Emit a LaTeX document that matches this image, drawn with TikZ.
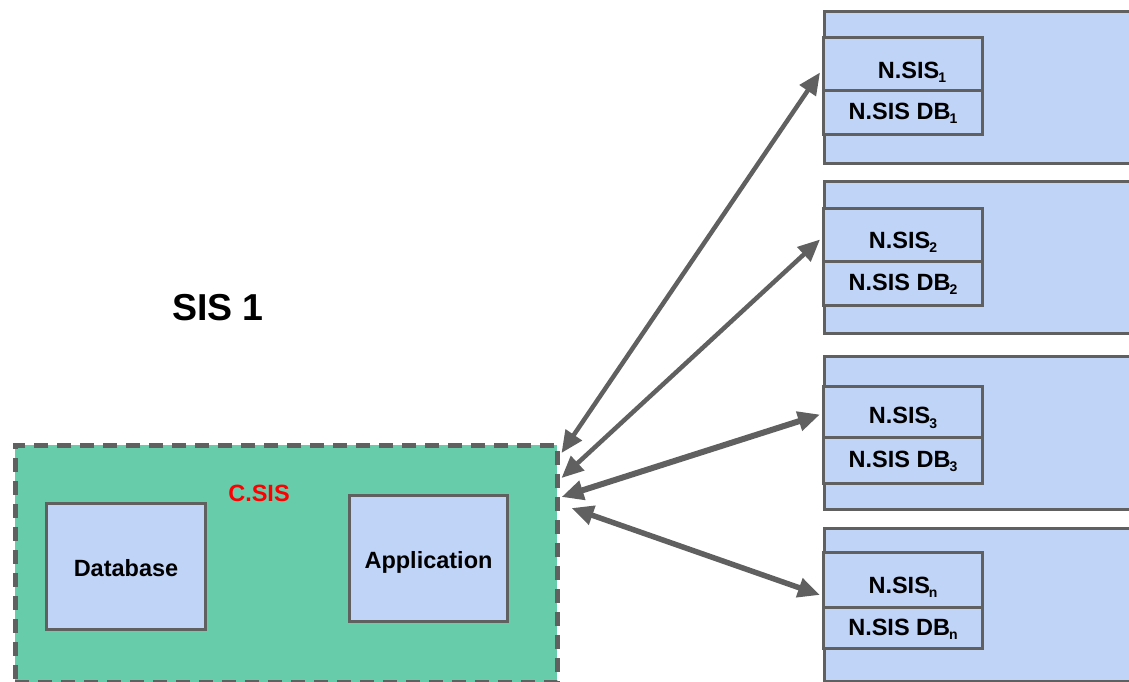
\documentclass[tikz,border=0pt]{standalone}
\usepackage{fontspec}
\setmainfont{Liberation Sans}
\usetikzlibrary{arrows.meta}
\definecolor{paleblue}{RGB}{192,212,248}
\definecolor{seagreen}{RGB}{102,204,170}
\definecolor{edgegray}{RGB}{96,96,96}
\newcommand\idx[1]{\kern-1pt\raisebox{-0.35ex}{\fontsize{14pt}{14pt}\selectfont #1}}
\tikzset{
  box/.style={draw=edgegray, line width=3pt, fill=paleblue, rectangle,
              inner sep=0pt, anchor=north west},
  site/.style={box, minimum width=420pt},
  cell/.style={box, minimum width=159pt},
  lbl/.style={font=\fontsize{23.5pt}{25pt}\selectfont\bfseries, inner sep=0pt},
  link/.style={draw=edgegray, line width=#1,
               arrows={Triangle[length=22pt,width=19pt]-Triangle[length=22pt,width=19pt]},
               fill=edgegray},
  link/.default=4.5pt
}
\begin{document}
\begin{tikzpicture}[x=1pt,y=-1pt]
\useasboundingbox (0,0) rectangle (1129,682);
\clip (0,0) rectangle (1129,682);

% central site
\node[box, fill=seagreen, line width=4.5pt, dash pattern=on 14pt off 9pt,
      minimum width=542pt, minimum height=237pt] (csis) at (13,443) {};
\node[box, minimum width=159pt, minimum height=126pt] (db) at (45,502) {};
\node[lbl] at ([yshift=-2pt]db.center) {Database};
\node[box, minimum width=158pt, minimum height=126pt] (app) at (348,494) {};
\node[lbl] at ([yshift=-4pt]app.center) {Application};
\node[lbl, text=red] (clabel) at (259,493) {C.SIS};
\node[font=\fontsize{37.5pt}{40pt}\selectfont\bfseries, inner sep=0pt] (title) at (218,308) {SIS 1};

% remote sites
\node[site, minimum height=152pt] (site1) at (823,10) {};
\node[cell, minimum height=53pt] (s1) at (822,36) {};
\node[cell, minimum height=44pt] (d1) at (822,89) {};
\node[lbl] at ([xshift=9pt,yshift=-8pt]s1.center) {N.SIS\idx{1}};
\node[lbl] at ([yshift=-1pt]d1.center) {N.SIS DB\idx{1}};

\node[site, minimum height=152pt] (site2) at (823,180) {};
\node[cell, minimum height=53pt] (s2) at (822,207) {};
\node[cell, minimum height=44pt] (d2) at (822,260) {};
\node[lbl] at ([yshift=-7pt]s2.center) {N.SIS\idx{2}};
\node[lbl] at ([yshift=-1pt]d2.center) {N.SIS DB\idx{2}};

\node[site, minimum height=153pt] (site3) at (823,355) {};
\node[cell, minimum height=51pt] (s3) at (822,385) {};
\node[cell, minimum height=46pt] (d3) at (822,436) {};
\node[lbl] at ([yshift=-6pt]s3.center) {N.SIS\idx{3}};
\node[lbl] at ([yshift=-1pt]d3.center) {N.SIS DB\idx{3}};

\node[site, minimum height=153pt] (site4) at (823,527) {};
\node[cell, minimum height=55pt] (s4) at (822,551) {};
\node[cell, minimum height=41pt] (d4) at (822,606) {};
\node[lbl] at ([yshift=-7pt]s4.center) {N.SIS\idx{n}};
\node[lbl] at ([yshift=-1pt]d4.center) {N.SIS DB\idx{n}};

% connection ends on the central site
\coordinate (c1) at ([xshift=2pt,yshift=-10pt]csis.north east);
\coordinate (c2) at ([xshift=2pt,yshift=-35pt]csis.north east);
\coordinate (c3) at ([xshift=2pt,yshift=-54pt]csis.north east);
\coordinate (c4) at ([xshift=12pt,yshift=-65pt]csis.north east);

\draw[link] (c1) -- ([xshift=-2pt,yshift=-8.5pt]s1.west);
\draw[link] (c2) -- ([xshift=-2pt,yshift=-4.5pt]s2.west);
\draw[link=6pt] (c3) -- ([xshift=-2pt,yshift=-2.5pt]s3.west);
\draw[link=5.5pt] (c4) -- ([xshift=-2pt,yshift=-15pt]s4.west);
\end{tikzpicture}
\end{document}
